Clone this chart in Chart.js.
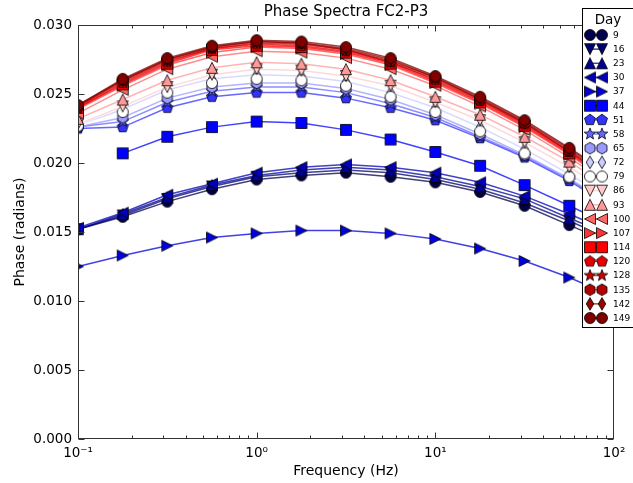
<!DOCTYPE html>
<html>
<head>
<meta charset="utf-8">
<script src="https://cdn.jsdelivr.net/npm/chart.js@4.4.0/dist/chart.umd.min.js"></script>
<style>
  html, body { margin: 0; padding: 0; background: #fff; }
  #wrap { position: relative; width: 633px; height: 483px; }
</style>
</head>
<body>
<div id="wrap"><canvas id="phaseChart" width="633" height="483"></canvas></div>
<script>
// frequencies (Hz), quarter-decade steps
const freqs = [0.1, 0.178, 0.316, 0.562, 1, 1.78, 3.16, 5.62, 10, 17.8, 31.6, 56.2, 100];

const days = [9, 16, 23, 30, 37, 44, 51, 58, 65, 72, 79, 86, 93, 100, 107, 114, 120, 128, 135, 142, 149];
const markers = ['o', 'v', '^', '<', '>', 's', 'p', '*', 'h', 'd', 'o', 'v', '^', '<', '>', 's', 'p', '*', 'h', 'd', 'o'];
const colors = ['#00004d', '#000070', '#000094', '#0000b8', '#0000db', '#0000ff', '#3333ff', '#6666ff', '#9999ff', '#ccccff',
    '#ffffff', '#ffcccc', '#ff9999', '#ff6666', '#ff3333', '#ff0000', '#e60000', '#cc0000', '#b30000', '#990000', '#800000'];

// phase values (radians), one array per day
const phase9 = [0.0152, 0.0161, 0.0172, 0.0181, 0.0188, 0.0191, 0.0193, 0.0190, 0.0186, 0.0179, 0.0169, 0.0155, 0.0141];
const phase16 = [0.0152, 0.0162, 0.0174, 0.0183, 0.0190, 0.0193, 0.0195, 0.0193, 0.0188, 0.0181, 0.0171, 0.0158, 0.0144];
const phase23 = [0.0152, 0.0163, 0.0175, 0.0184, 0.0191, 0.0195, 0.0197, 0.0195, 0.0190, 0.0183, 0.0174, 0.0160, 0.0147];
const phase30 = [0.0153, 0.0164, 0.0177, 0.0185, 0.0193, 0.0197, 0.0199, 0.0197, 0.0193, 0.0186, 0.0176, 0.0163, 0.0149];
const phase37 = [0.0125, 0.0133, 0.0140, 0.0146, 0.0149, 0.0151, 0.0151, 0.0149, 0.0145, 0.0138, 0.0129, 0.0117, 0.0103];
const phase44 = [null, 0.0207, 0.0219, 0.0226, 0.0230, 0.0229, 0.0224, 0.0217, 0.0208, 0.0198, 0.0184, 0.0169, 0.0154];
const phase51 = [0.0225, 0.0226, 0.0240, 0.0248, 0.0251, 0.0251, 0.0247, 0.0240, 0.0231, 0.0218, 0.0204, 0.0187, 0.0167];
const phase58 = [0.0226, 0.0230, 0.0244, 0.0252, 0.0255, 0.0255, 0.0251, 0.0243, 0.0233, 0.0219, 0.0205, 0.0188, 0.0168];
const phase65 = [0.0226, 0.0233, 0.0247, 0.0255, 0.0258, 0.0258, 0.0254, 0.0246, 0.0235, 0.0221, 0.0206, 0.0189, 0.0169];
const phase72 = [0.0227, 0.0239, 0.0253, 0.0261, 0.0264, 0.0263, 0.0259, 0.0251, 0.0240, 0.0226, 0.0210, 0.0192, 0.0172];
const phase79 = [0.0227, 0.0237, 0.0251, 0.0258, 0.0261, 0.0260, 0.0256, 0.0248, 0.0237, 0.0223, 0.0207, 0.0190, 0.0170];
const phase86 = [0.0228, 0.0241, 0.0255, 0.0264, 0.0268, 0.0267, 0.0263, 0.0256, 0.0244, 0.0231, 0.0215, 0.0197, 0.0177];
const phase93 = [0.0232, 0.0246, 0.0260, 0.0269, 0.0273, 0.0272, 0.0268, 0.0260, 0.0248, 0.0235, 0.0219, 0.0201, 0.0180];
const phase100 = [0.0236, 0.0253, 0.0268, 0.0277, 0.0281, 0.0280, 0.0276, 0.0268, 0.0256, 0.0241, 0.0224, 0.0204, 0.0182];
const phase107 = [0.0239, 0.0256, 0.0271, 0.0280, 0.0284, 0.0283, 0.0279, 0.0271, 0.0258, 0.0243, 0.0226, 0.0206, 0.0184];
const phase114 = [0.0240, 0.0257, 0.0272, 0.0282, 0.0285, 0.0284, 0.0280, 0.0272, 0.0259, 0.0244, 0.0227, 0.0207, 0.0185];
const phase120 = [0.0240, 0.0258, 0.0273, 0.0283, 0.0286, 0.0285, 0.0281, 0.0273, 0.0260, 0.0245, 0.0228, 0.0208, 0.0186];
const phase128 = [0.0241, 0.0259, 0.0274, 0.0283, 0.0287, 0.0286, 0.0282, 0.0273, 0.0261, 0.0246, 0.0229, 0.0208, 0.0187];
const phase135 = [0.0241, 0.0260, 0.0275, 0.0284, 0.0288, 0.0287, 0.0282, 0.0274, 0.0262, 0.0246, 0.0229, 0.0209, 0.0188];
const phase142 = [0.0242, 0.0260, 0.0275, 0.0284, 0.0288, 0.0287, 0.0283, 0.0275, 0.0262, 0.0247, 0.0230, 0.0210, 0.0189];
const phase149 = [0.0242, 0.0261, 0.0276, 0.0285, 0.0289, 0.0288, 0.0284, 0.0276, 0.0263, 0.0248, 0.0231, 0.0211, 0.0190];

const phaseByDay = [phase9, phase16, phase23, phase30, phase37, phase44, phase51, phase58, phase65, phase72, phase79,
    phase86, phase93, phase100, phase107, phase114, phase120, phase128, phase135, phase142, phase149];

const xTickVals = [0.1, 1, 10, 100];
const xTickLabels = ['10\u207B\u00B9', '10\u2070', '10\u00B9', '10\u00B2'];
const yTickVals = [0, 0.005, 0.010, 0.015, 0.020, 0.025, 0.030];

const FONT = "'DejaVu Sans', sans-serif";

// hex colour -> rgba with some transparency for the connecting lines
const fade = (hex, a) => {
    const n = parseInt(hex.slice(1), 16);
    return `rgba(${n >> 16}, ${(n >> 8) & 255}, ${n & 255}, ${a})`;
};

// matplotlib-like marker glyphs drawn on small canvases
const makeMarker = (shape, fill) => {
    const c = document.createElement("canvas");
    c.width = 16;
    c.height = 16;
    const ctx = c.getContext("2d");
    const r = 5.5;
    ctx.translate(8, 8);
    ctx.beginPath();
    const poly = (pts) => {
        ctx.moveTo(pts[0][0], pts[0][1]);
        pts.slice(1).forEach(p => ctx.lineTo(p[0], p[1]));
        ctx.closePath();
    };
    const regular = (n, rad, inner) => {
        const pts = [];
        const steps = inner ? n * 2 : n;
        for (let k = 0; k < steps; k++) {
            const ang = -Math.PI / 2 + k * 2 * Math.PI / steps;
            const rr = inner && k % 2 ? rad * inner : rad;
            pts.push([rr * Math.cos(ang), rr * Math.sin(ang)]);
        }
        poly(pts);
    };
    switch (shape) {
        case "o": ctx.arc(0, 0, r, 0, Math.PI * 2); break;
        case "^": poly([[0, -r], [-r, r], [r, r]]); break;
        case "v": poly([[0, r], [-r, -r], [r, -r]]); break;
        case "<": poly([[-r, 0], [r, -r], [r, r]]); break;
        case ">": poly([[r, 0], [-r, -r], [-r, r]]); break;
        case "s": poly([[-r, -r], [r, -r], [r, r], [-r, r]]); break;
        case "p": regular(5, r * 1.05); break;
        case "*": regular(5, r * 1.1, 0.42); break;
        case "h": regular(6, r * 1.05); break;
        case "d": poly([[0, -r * 1.15], [r * 0.68, 0], [0, r * 1.15], [-r * 0.68, 0]]); break;
    }
    ctx.fillStyle = fill;
    ctx.fill();
    ctx.lineWidth = 0.8;
    ctx.strokeStyle = "#000";
    ctx.stroke();
    return c;
};

const markerImgs = days.map((d, i) => makeMarker(markers[i], colors[i]));

const datasets = days.map((d, i) => ({
    label: String(d),
    data: freqs.map((f, j) => ({ x: f, y: phaseByDay[i][j] })),
    borderColor: fade(colors[i], 0.75),
    backgroundColor: colors[i],
    borderWidth: 1.5,
    pointStyle: markerImgs[i],
    pointRadius: 6,
    tension: 0,
    order: days.length - 1 - i   // later days drawn on top
}));

// axes box + inward ticks like matplotlib classic
const framePlugin = {
    id: "frame",
    afterDatasetsDraw(chart) {
        const { ctx, chartArea: a, scales: { x, y } } = chart;
        const L = Math.round(a.left) + 0.5, R = Math.round(a.right) - 0.5;
        const T = Math.round(a.top) + 0.5, B = Math.round(a.bottom) - 0.5;
        ctx.save();
        ctx.strokeStyle = "#333";
        ctx.lineWidth = 1;
        ctx.beginPath();
        // x ticks, major and minor, bottom and top
        for (let dec = 0.1; dec < 100; dec *= 10) {
            for (let m = 1; m <= 9; m++) {
                const v = dec * m;
                const px = Math.round(x.getPixelForValue(v)) + 0.5;
                const len = m === 1 ? 6 : 3;
                ctx.moveTo(px, B); ctx.lineTo(px, B - len);
                ctx.moveTo(px, T); ctx.lineTo(px, T + len);
            }
        }
        yTickVals.forEach(v => {
            const py = Math.round(y.getPixelForValue(v)) + 0.5;
            ctx.moveTo(L, py); ctx.lineTo(L + 6, py);
            ctx.moveTo(R, py); ctx.lineTo(R - 6, py);
        });
        ctx.stroke();
        ctx.strokeRect(L, T, R - L, B - T);
        ctx.restore();
    }
};

// legend box on the right, overlapping the axes
const legendPlugin = {
    id: "dayLegend",
    afterDraw(chart) {
        const ctx = chart.ctx;
        const left = 582.5, top = 8.5, right = 634, bottom = 327.5;
        ctx.save();
        ctx.fillStyle = "#fff";
        ctx.fillRect(left, top, right - left, bottom - top);
        ctx.strokeStyle = "#000";
        ctx.lineWidth = 1;
        ctx.strokeRect(left, top, right - left, bottom - top);
        ctx.fillStyle = "#000";
        ctx.font = "13.5px " + FONT;
        ctx.textAlign = "center";
        ctx.textBaseline = "middle";
        ctx.fillText("Day", 608, 20);
        ctx.font = "9px " + FONT;
        ctx.textAlign = "left";
        days.forEach((d, i) => {
            const yy = 35 + i * 14.15;
            ctx.strokeStyle = fade(colors[i], 0.75);
            ctx.lineWidth = 1.5;
            ctx.beginPath();
            ctx.moveTo(590, yy);
            ctx.lineTo(602, yy);
            ctx.stroke();
            [590, 602].forEach(xx => {
                const img = markerImgs[i];
                ctx.drawImage(img, xx - img.width / 2, yy - img.height / 2);
            });
            ctx.fillStyle = "#000";
            ctx.fillText(String(d), 613, yy + 0.5);
        });
        ctx.restore();
    }
};

new Chart(document.getElementById("phaseChart"), {
    type: "line",
    data: { datasets: datasets },
    plugins: [framePlugin, legendPlugin],
    options: {
        responsive: false,
        animation: false,
        events: [],
        layout: { padding: { left: 0, right: 19, top: 0, bottom: 0 } },
        plugins: {
            legend: { display: false },
            tooltip: { enabled: false },
            title: {
                display: true,
                text: "Phase Spectra FC2-P3",
                fullSize: false,
                color: "#000",
                font: { family: FONT, size: 15, weight: "normal", lineHeight: 1.2 },
                padding: { top: 3, bottom: 4 }
            }
        },
        scales: {
            x: {
                type: "logarithmic",
                min: 0.1,
                max: 100,
                afterFit: (scale) => { scale.height = 44; },
                afterBuildTicks: (scale) => { scale.ticks = xTickVals.map(v => ({ value: v })); },
                grid: { display: false, drawTicks: false },
                border: { display: false },
                ticks: {
                    autoSkip: false,
                    maxRotation: 0,
                    padding: 6,
                    color: "#000",
                    font: { family: FONT, size: 13.5 },
                    callback: (v) => xTickLabels[xTickVals.indexOf(v)]
                },
                title: {
                    display: true,
                    text: "Frequency (Hz)",
                    color: "#000",
                    font: { family: FONT, size: 14, lineHeight: 1.2 },
                    padding: { top: 0, bottom: 3 }
                }
            },
            y: {
                min: 0,
                max: 0.03,
                afterFit: (scale) => { scale.width = 78; },
                afterBuildTicks: (scale) => { scale.ticks = yTickVals.map(v => ({ value: v })); },
                grid: { display: false, drawTicks: false },
                border: { display: false },
                ticks: {
                    padding: 6,
                    color: "#000",
                    font: { family: FONT, size: 13.5 },
                    callback: (v) => v.toFixed(3)
                },
                title: {
                    display: true,
                    text: "Phase (radians)",
                    color: "#000",
                    font: { family: FONT, size: 14, lineHeight: 1.2 },
                    padding: { top: 12, bottom: 0 }
                }
            }
        }
    }
});
</script>
</body>
</html>
